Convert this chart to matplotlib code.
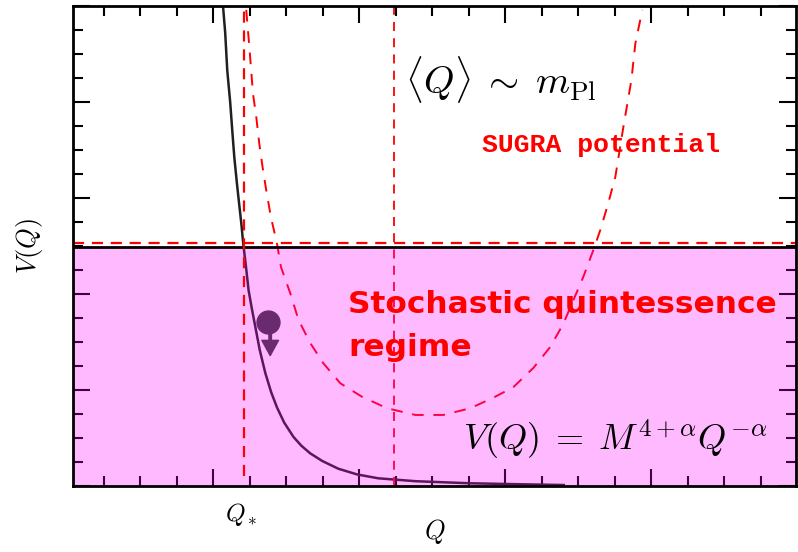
import numpy as np
import matplotlib
matplotlib.use('Agg')
import matplotlib.pyplot as plt
from matplotlib.ticker import MultipleLocator
from matplotlib.patches import Rectangle

plt.rcParams['mathtext.fontset'] = 'cm'

# Potencial de ley de potencias V(Q) = M^(4+a) Q^(-a)
q_pot = [0.068, 0.082, 0.096, 0.116, 0.130, 0.144, 0.161, 0.178, 0.192, 0.205,
         0.223, 0.242, 0.264, 0.288, 0.318, 0.356, 0.396, 0.436, 0.486, 0.550,
         0.603, 0.664, 0.747, 0.856, 0.986, 1.130, 1.384, 1.760, 2.100, 2.400]
v_pot = [4.98, 4.72, 4.33, 4.00, 3.71, 3.43, 3.17, 2.93, 2.74, 2.53,
         2.30, 2.04, 1.85, 1.66, 1.42, 1.18, 0.98, 0.82, 0.66, 0.51,
         0.42, 0.34, 0.26, 0.18, 0.12, 0.080, 0.050, 0.028, 0.018, 0.010]

# Potencial SUGRA
q_sugra = [0.226, 0.249, 0.272, 0.295, 0.315, 0.338, 0.363, 0.395, 0.436, 0.464,
           0.527, 0.584, 0.664, 0.753, 0.870, 1.018, 1.190, 1.384, 1.575, 1.760,
           1.918, 2.055, 2.192, 2.308, 2.397, 2.534, 2.603, 2.651, 2.705, 2.753,
           2.808, 2.863, 2.890, 2.938]
v_sugra = [4.96, 4.54, 4.09, 3.84, 3.57, 3.32, 3.08, 2.80, 2.53, 2.28,
           2.01, 1.73, 1.49, 1.28, 1.07, 0.93, 0.81, 0.74, 0.74, 0.81,
           0.92, 1.03, 1.23, 1.45, 1.69, 2.18, 2.46, 2.67, 2.95, 3.22,
           3.74, 4.23, 4.61, 4.96]

q_star = 0.212      # Q_*
v_star = 2.53       # V(Q_*)
q_pl = 1.24         # <Q> ~ m_Pl
v_stoch = 2.49      # limite del regimen estocastico
q_campo, v_campo = 0.377, 1.708

fig = plt.figure(figsize=(7.98, 5.52), dpi=100)
ax = fig.add_axes([0.0915, 0.1196, 0.906, 0.8694])
ax.set_xlim(-0.96, 3.99)
ax.set_ylim(0, 5)

# curvas
ax.plot(q_pot, v_pot, color='#202020', lw=1.8, zorder=2)
ax.plot(q_sugra, v_sugra, color='red', lw=1.4, ls=(0, (6, 5)), zorder=2)
ax.axvline(q_pl, color='red', lw=1.3, ls=(0, (5, 4)), zorder=2)

# region rosa del regimen estocastico
ax.add_patch(Rectangle((-0.96, 0), 4.95, v_stoch, facecolor='magenta',
                       alpha=0.27, edgecolor='none', zorder=3))
ax.axhline(v_stoch, color='black', lw=2, zorder=4)
ax.axhline(v_star, color='red', lw=1.6, ls=(0, (5, 3.5)), zorder=4)
ax.plot([q_star, q_star], [0.1, 5], color='red', lw=1.6, ls=(0, (5, 3.5)), zorder=4)

# el campo rodando
ax.plot(q_campo, v_campo, 'o', ms=16.5, color='#6a2a70', zorder=5)
ax.annotate('', xy=(q_campo + 0.013, v_campo - 0.35), xytext=(q_campo + 0.013, v_campo - 0.08),
            arrowprops=dict(width=1.8, headwidth=12, headlength=11, color='#6a2a70', shrink=0),
            zorder=5)

# textos
ax.text(1.315, 4.23, r'$\langle Q\rangle \;\sim\; m_{\rm Pl}$', fontsize=28, va='center', zorder=6)
ax.text(1.84, 3.55, 'SUGRA potential', fontsize=19, color='red', family='Liberation Mono',
        fontweight='bold', va='center', zorder=6)
ax.text(0.925, 1.80, 'Stochastic quintessence', fontsize=22.5, color='red',
        fontweight='bold', va='baseline', zorder=6)
ax.text(0.925, 1.35, 'regime', fontsize=22.5, color='red',
        fontweight='bold', va='baseline', zorder=6)
ax.text(1.71, 0.48, r'$V(Q)\;=\;M^{4+\alpha}Q^{-\alpha}$', fontsize=26, va='center', zorder=6)

ax.text(q_star - 0.02, -0.3, r'$Q_*$', fontsize=18, ha='center', va='center')
ax.set_xlabel(r'$Q$', fontsize=19, labelpad=22)
ax.set_ylabel(r'$V(Q)$', fontsize=19, labelpad=20)

# ejes y marcas
ax.xaxis.set_major_locator(MultipleLocator(1))
ax.xaxis.set_minor_locator(MultipleLocator(0.25))
ax.yaxis.set_major_locator(MultipleLocator(1))
ax.yaxis.set_minor_locator(MultipleLocator(0.25))
ax.tick_params(which='both', direction='in', top=True, right=True,
               labelbottom=False, labelleft=False, width=1.5)
ax.tick_params(which='major', length=12)
ax.tick_params(which='minor', length=7)
for s in ax.spines.values():
    s.set_linewidth(2)
    s.set_zorder(5)

plt.savefig('out.png', dpi=100)
